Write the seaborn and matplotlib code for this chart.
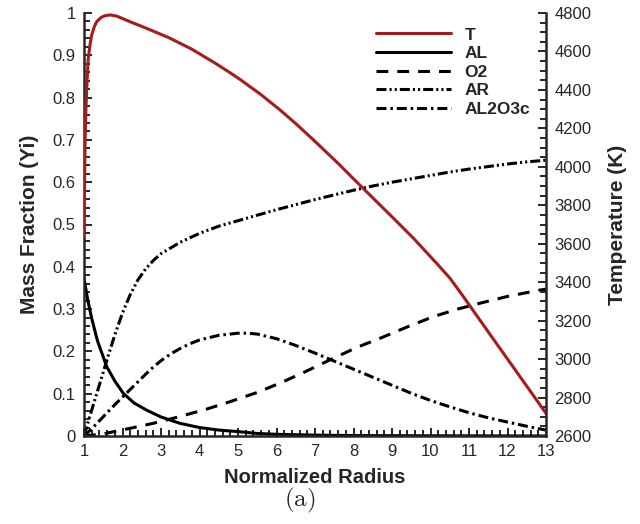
import numpy as np
import pandas as pd
import matplotlib
matplotlib.use("Agg")
import matplotlib.pyplot as plt
import seaborn as sns
from matplotlib.lines import Line2D
from matplotlib.ticker import MultipleLocator, FuncFormatter

# ---------------- data ----------------
x_T = [1.0, 1.015, 1.03, 1.05, 1.07, 1.11, 1.16, 1.2, 1.27, 1.33, 1.45, 1.55,
       1.675, 1.85, 2.19, 2.63, 3.2, 3.8, 4.4, 4.79, 5.05, 5.6, 6.09, 6.5, 6.96,
       7.6, 8.25, 8.95, 9.55, 10.16, 10.5, 10.8, 11.29, 11.7, 12.15, 12.6, 13.0]
T = [3645, 3920, 4148, 4300, 4408, 4564, 4640, 4686, 4730, 4755, 4778, 4786,
     4790, 4784, 4755, 4720, 4672, 4612, 4540, 4490, 4455, 4375, 4296, 4225, 4140,
     4018, 3888, 3750, 3630, 3498, 3422, 3340, 3201, 3085, 2958, 2831, 2718]

x_AL = [1.0, 1.1, 1.2, 1.35, 1.59, 1.8, 2.02, 2.3, 2.63, 3.0, 3.49, 4.0, 4.5,
        5.05, 5.5, 6.0, 7.0, 8.0, 10.0, 13.0]
AL = [0.373, 0.32, 0.278, 0.225, 0.164, 0.13, 0.101, 0.078, 0.061, 0.045, 0.030,
      0.020, 0.014, 0.010, 0.006, 0.004, 0.002, 0.001, 0.0005, 0.0]

x_O2 = [1.0, 1.5, 2.19, 2.8, 3.49, 4.2, 4.79, 5.5, 6.09, 6.7, 7.39, 8.1, 8.69,
        9.4, 10.07, 10.7, 11.29, 12.0, 12.84, 13.0]
O2 = [0.0, 0.005, 0.018, 0.030, 0.046, 0.064, 0.081, 0.103, 0.125, 0.150, 0.180,
      0.210, 0.231, 0.258, 0.282, 0.300, 0.314, 0.330, 0.345, 0.347]

x_AR = [1.0, 1.07, 1.2, 1.4, 1.6, 1.8, 2.0, 2.2, 2.4, 2.6, 2.8, 3.0, 3.5, 4.0,
        4.5, 5.0, 5.5, 6.0, 6.5, 7.0, 7.5, 8.0, 8.5, 9.0, 9.5, 10.0, 10.5, 11.0,
        11.5, 12.0, 12.5, 13.0]
AR = [0.0, 0.022, 0.061, 0.121, 0.181, 0.239, 0.291, 0.334, 0.369, 0.395, 0.415,
      0.431, 0.458, 0.479, 0.496, 0.509, 0.522, 0.535, 0.547, 0.559, 0.570, 0.581,
      0.591, 0.600, 0.608, 0.616, 0.624, 0.631, 0.637, 0.643, 0.648, 0.652]

x_AL2O3c = [1.0, 1.2, 1.4, 1.6, 1.8, 2.0, 2.2, 2.4, 2.6, 2.8, 3.0, 3.25, 3.5,
            3.75, 4.0, 4.5, 5.0, 5.25, 5.5, 6.0, 6.5, 7.0, 7.5, 8.0, 8.5, 9.0,
            9.5, 10.0, 10.5, 11.0, 11.5, 12.0, 12.5, 13.0]
AL2O3c = [0.0, 0.017, 0.036, 0.055, 0.074, 0.092, 0.110, 0.128, 0.146, 0.163,
          0.178, 0.194, 0.207, 0.218, 0.227, 0.238, 0.243, 0.243, 0.241, 0.230,
          0.214, 0.196, 0.177, 0.158, 0.139, 0.120, 0.101, 0.084, 0.069, 0.055,
          0.043, 0.033, 0.023, 0.014]

species_names = ["AL", "O2", "AR", "AL2O3c"]
legend_labels = ["T", "AL", "O2", "AR", "AL2O3c"]

x_ticks = list(range(1, 14))
y_ticks = [0, 0.1, 0.2, 0.3, 0.4, 0.5, 0.6, 0.7, 0.8, 0.9, 1.0]
t_ticks = list(range(2600, 4801, 200))

# ---------------- style ----------------
sns.set_style("ticks")
plt.rcParams['font.family'] = ['Liberation Sans', 'DejaVu Sans']
plt.rcParams['mathtext.fontset'] = 'cm'
plt.rcParams['lines.scale_dashes'] = False
plt.rcParams['xtick.direction'] = 'in'
plt.rcParams['ytick.direction'] = 'in'

RED = "#a51c1c"
LW = 2.2
styles = {
    "T": dict(color=RED, linestyle="-"),
    "AL": dict(color="black", linestyle="-"),
    "O2": dict(color="black", linestyle=(0, (8.5, 6.5))),
    "AR": dict(color="black", linestyle=(0, (7.2, 2.2, 1.5, 2.2, 1.5, 2.2))),
    "AL2O3c": dict(color="black", linestyle=(0, (7.2, 2.8, 1.8, 2.8))),
}

fig = plt.figure(figsize=(6.4, 5.24), dpi=100)
ax = fig.add_axes([84 / 640, 88 / 524, 462 / 640, 423 / 524])
ax2 = ax.twinx()

series = {
    "AL": (x_AL, AL),
    "O2": (x_O2, O2),
    "AR": (x_AR, AR),
    "AL2O3c": (x_AL2O3c, AL2O3c),
}
for name in species_names:
    xs, ys = series[name]
    df = pd.DataFrame({"r": xs, "Y": ys})
    sns.lineplot(data=df, x="r", y="Y", ax=ax, estimator=None, sort=False,
                 linewidth=LW, **styles[name])

dfT = pd.DataFrame({"r": x_T, "T": T})
sns.lineplot(data=dfT, x="r", y="T", ax=ax2, estimator=None, sort=False,
             linewidth=LW, **styles["T"])

# ---------------- axes ----------------
ax.set_xlim(1, 13)
ax.set_ylim(0, 1)
ax2.set_ylim(2600, 4800)
ax.set_xticks(x_ticks)
ax.set_yticks(y_ticks)
ax2.set_yticks(t_ticks)
ax.xaxis.set_minor_locator(MultipleLocator(0.2))
ax.yaxis.set_minor_locator(MultipleLocator(0.02))
ax2.yaxis.set_minor_locator(MultipleLocator(50))
ax.yaxis.set_major_formatter(FuncFormatter(lambda v, _: f"{v:g}"))

for sp in ["top", "right"]:
    ax.spines[sp].set_visible(False)
for sp in ["top", "left", "bottom"]:
    ax2.spines[sp].set_visible(False)
for sp in ["left", "bottom"]:
    ax.spines[sp].set_linewidth(1.8)
ax2.spines["right"].set_linewidth(1.8)

ax.tick_params(axis="both", which="both", direction="in", top=False, right=False,
               width=1.4, labelsize=12, pad=6)
ax.tick_params(which="major", length=6)
ax.tick_params(which="minor", length=4.3)
ax2.tick_params(axis="y", which="both", direction="in", left=False, right=True,
                width=1.4, labelsize=12, pad=6)
ax2.tick_params(which="major", length=6)
ax2.tick_params(which="minor", length=4.3)

ax.set_xlabel("Normalized Radius", fontsize=14.5, fontweight="bold")
ax.set_ylabel("Mass Fraction (Yi)", fontsize=15, fontweight="bold")
ax2.set_ylabel("Temperature (K)", fontsize=15, fontweight="bold")
ax.xaxis.set_label_coords(0.5, -0.097)
ax.xaxis.label.set_va("center")
ax.yaxis.set_label_coords(-0.117, 0.5)
ax.yaxis.label.set_va("center")
ax2.yaxis.set_label_coords(1.154, 0.5)
ax2.yaxis.label.set_va("center")

handles = [Line2D([0], [0], linewidth=LW, **styles[n]) for n in legend_labels]
leg = ax2.legend(handles, legend_labels, loc="upper left",
                 bbox_to_anchor=(0.632, 0.966), frameon=False,
                 handlelength=4.3, handletextpad=0.8, labelspacing=0.2,
                 borderpad=0, borderaxespad=0,
                 prop=dict(weight="bold", size=12.5))

fig.text(300 / 640, 1 - 500 / 524, r"$\mathrm{(a)}$", ha="center", va="center",
         fontsize=18)

fig.savefig("out.png", dpi=100)
